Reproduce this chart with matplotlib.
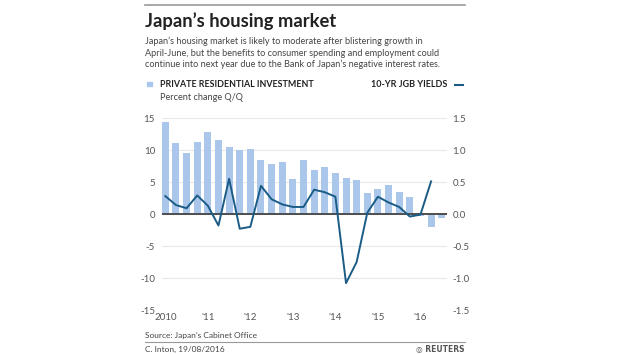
import matplotlib.pyplot as plt

# Data (quarterly, Q1 2010 - Q3 2016)
quarters = list(range(27))
year_ticks = [0, 4, 8, 12, 16, 20, 24]
year_labels = ["2010", "'11", "'12", "'13", "'14", "'15", "'16"]
investment = [14.4, 11.1, 9.5, 11.3, 12.8, 11.5, 10.4, 10.0, 10.1, 8.4, 7.8, 8.1, 5.5,
              8.5, 6.8, 7.4, 6.4, 5.6, 5.3, 3.3, 3.9, 4.6, 3.5, 2.6, -0.3, -2.1, -0.7]
jgb_yields = [0.28, 0.14, 0.09, 0.29, 0.13, -0.18, 0.55, -0.23, -0.20, 0.44, 0.23, 0.15, 0.11,
              0.11, 0.38, 0.34, 0.27, -1.08, -0.75, 0.02, 0.27, 0.18, 0.11, -0.04, -0.01, 0.51]
left_ticks = [-15, -10, -5, 0, 5, 10, 15]
right_ticks = [-1.5, -1.0, -0.5, 0.0, 0.5, 1.0, 1.5]

plt.rcParams["font.family"] = ["Lato", "DejaVu Sans"]

W, H = 620, 354
fig = plt.figure(figsize=(W / 100, H / 100), dpi=100)


def px(x, y):
    return x / W, 1 - y / H


bar_color = "#aac7eb"
line_color = "#1b5c86"
grey = "#555555"

ax = fig.add_axes([161.7 / W, 1 - 310 / H, (446.7 - 161.7) / W, (310 - 118) / H])
ax2 = ax.twinx()

ax.bar(quarters, investment, width=0.66, color=bar_color, zorder=2)
ax.axhline(0, color="#4d4d4d", lw=1.4, zorder=3)
ax2.plot(quarters[:len(jgb_yields)], jgb_yields, color=line_color, lw=1.4)

ax.set_xlim(-0.34, 26.47)
ax.set_ylim(-15, 15)
ax2.set_ylim(-1.5, 1.5)
ax.set_yticks(left_ticks)
ax.set_yticklabels([str(t) for t in left_ticks])
ax2.set_yticks(right_ticks)
ax2.set_yticklabels(["%.1f" % t for t in right_ticks])
ax.set_xticks(year_ticks)
ax.set_xticklabels(year_labels)

ax.yaxis.grid(True, color="#e8e8e8", lw=0.8, zorder=0)
ax.set_axisbelow(True)
for a in (ax, ax2):
    for s in a.spines.values():
        s.set_visible(False)
ax.tick_params(axis="y", length=0, pad=4.8, labelsize=7, labelcolor=grey)
ax.tick_params(axis="x", length=0, pad=2.5, labelsize=7, labelcolor=grey)
ax2.tick_params(axis="y", length=0, pad=4, labelsize=7, labelcolor=grey)

# header
fig.add_artist(plt.Line2D([145 / W, 465 / W], [1 - 5 / H, 1 - 5 / H], color="#999999", lw=1.2))
fig.text(*px(145, 27), "Japan\u2019s housing market", fontsize=13.2, fontweight="bold",
         color="#222222", va="baseline")
subtitle = ["Japan\u2019s housing market is likely to moderate after blistering growth in",
            "April-June, but the benefits to consumer spending and employment could",
            "continue into next year due to the Bank of Japan\u2019s negative interest rates."]
for i, line in enumerate(subtitle):
    fig.text(*px(145, 44 + i * 11.7), line, fontsize=6.6, color="#444444", va="baseline")

# legend
fig.add_artist(plt.Rectangle(px(146.7, 86), 5 / W, 3.7 / H, color=bar_color))
fig.text(*px(160, 87.3), "PRIVATE RESIDENTIAL INVESTMENT", fontsize=6.4, fontweight="bold",
         color="#222222", va="baseline")
fig.text(*px(160, 99.5), "Percent change Q/Q", fontsize=6.6, color="#444444", va="baseline")
fig.text(*px(447.5, 87.3), "10-YR JGB YIELDS", fontsize=6.5, fontweight="bold",
         color="#222222", va="baseline", ha="right")
fig.add_artist(plt.Line2D([455 / W, 463 / W], [1 - 84.5 / H, 1 - 84.5 / H], color=line_color, lw=1.5))

# footer
fig.text(*px(145, 338), "Source: Japan\u2019s Cabinet Office", fontsize=6, color="#444444", va="baseline")
fig.add_artist(plt.Line2D([145 / W, 465 / W], [1 - 342 / H, 1 - 342 / H], color="#999999", lw=0.8))
fig.text(*px(145, 352), "C. Inton, 19/08/2016", fontsize=6, color="#444444", va="baseline")
fig.text(*px(465, 352), "\u25CE REUTERS", fontsize=5.5, fontweight="bold", color="#555555",
         va="baseline", ha="right", family=["DejaVu Sans"])

fig.savefig("out.png", dpi=100, facecolor="white")
